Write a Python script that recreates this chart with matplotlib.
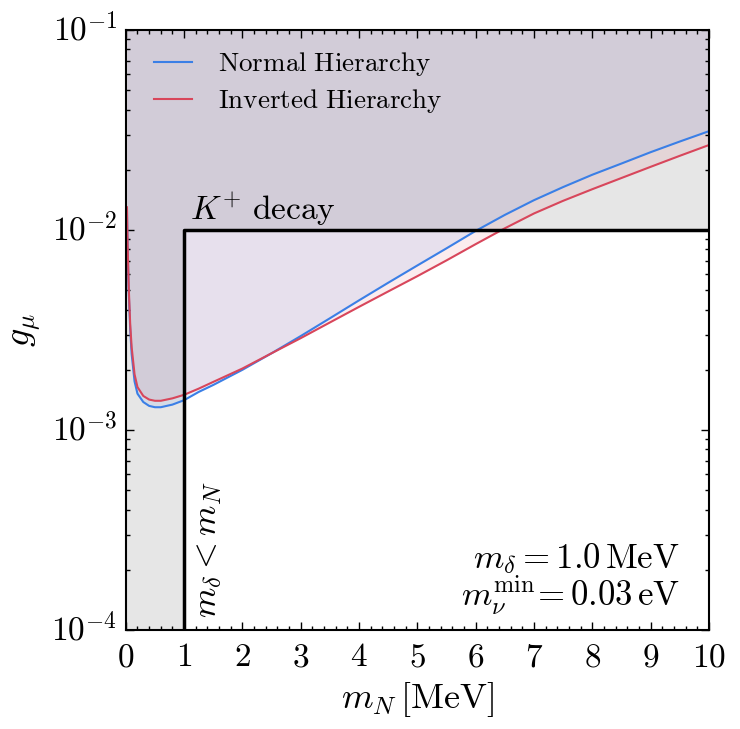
import numpy as np
import matplotlib
matplotlib.use('Agg')
from matplotlib import pyplot as plt
from matplotlib.ticker import MultipleLocator

plt.style.use('classic')
plt.rcParams['mathtext.fontset'] = 'cm'
plt.rcParams['font.family'] = 'serif'
plt.rcParams['font.serif'] = ['DejaVu Serif']

# данные
m_N = [0.02, 0.03, 0.05, 0.075, 0.1, 0.15, 0.2, 0.3, 0.4, 0.5, 0.6, 0.7, 0.8, 1.0,
       1.25, 1.5, 2.0, 2.5, 3.0, 3.5, 4.0, 4.5, 5.0, 5.5, 6.0, 6.5, 7.0, 7.5, 8.0,
       8.5, 9.0, 9.5, 10.0]
g_NH = [1.25e-2, 8.3e-3, 4.9e-3, 3.2e-3, 2.4e-3, 1.75e-3, 1.52e-3, 1.38e-3, 1.32e-3,
        1.30e-3, 1.30e-3, 1.32e-3, 1.34e-3, 1.41e-3,
        1.55e-3, 1.68e-3, 2.0e-3, 2.42e-3, 2.95e-3, 3.62e-3, 4.45e-3, 5.45e-3, 6.65e-3,
        8.1e-3, 9.9e-3, 1.19e-2, 1.41e-2, 1.64e-2, 1.89e-2,
        2.15e-2, 2.45e-2, 2.77e-2, 3.12e-2]
g_IH = [1.3e-2, 8.8e-3, 5.2e-3, 3.4e-3, 2.6e-3, 1.9e-3, 1.64e-3, 1.48e-3, 1.42e-3,
        1.40e-3, 1.40e-3, 1.42e-3, 1.44e-3, 1.50e-3,
        1.61e-3, 1.74e-3, 2.03e-3, 2.42e-3, 2.88e-3, 3.45e-3, 4.13e-3, 4.93e-3, 5.88e-3,
        7.05e-3, 8.5e-3, 1.02e-2, 1.21e-2, 1.40e-2, 1.60e-2,
        1.82e-2, 2.07e-2, 2.35e-2, 2.66e-2]

# граница K+ decay
box_x = [1.0, 1.0, 10.0]
box_y = [1e-4, 1e-2, 1e-2]

col_nh = '#3b7fe6'
col_ih = '#d8465b'

fig = plt.figure(figsize=(7.4, 7.29), dpi=100)
fig.patch.set_facecolor('white')
ax = fig.add_axes([0.170, 0.1358, 0.788, 0.823])
ax.set_facecolor('0.9')
ax.set_yscale('log')
ax.set_xlim(0, 10)
ax.set_ylim(1e-4, 1e-1)

# белая область внутри коробки
ax.fill_between([box_x[0], box_x[2]], box_y[0], box_y[1], color='white', lw=0, zorder=1)
# заливки над кривыми
ax.fill_between(m_N, g_IH, 1e-1, color=col_ih, alpha=0.1, lw=0, zorder=2)
ax.fill_between(m_N, g_NH, 1e-1, color=col_nh, alpha=0.1, lw=0, zorder=2)

ax.plot(m_N, g_NH, color=col_nh, lw=1.5, label=r'$\mathrm{Normal\ Hierarchy}$', zorder=4)
ax.plot(m_N, g_IH, color=col_ih, lw=1.5, label=r'$\mathrm{Inverted\ Hierarchy}$', zorder=4)
ax.plot(box_x, box_y, color='k', lw=2.5, zorder=5)

ax.text(1.1, 1.12e-2, r'$K^{+}\ \mathrm{decay}$', fontsize=24, zorder=6)
ax.text(1.1, 1.15e-4, r'$m_\delta < m_N$', fontsize=25, rotation=90,
        ha='left', va='bottom', zorder=6)
ax.text(9.5, 2.28e-4, r'$m_\delta = 1.0\,\mathrm{MeV}$', fontsize=25, ha='right',
        va='center', zorder=6)
ax.text(9.5, 1.49e-4, r'$m_\nu^{\mathrm{min}}\!= 0.03\,\mathrm{eV}$', fontsize=25, ha='right',
        va='center', zorder=6)

leg = ax.legend(loc='upper left', frameon=False, fontsize=19.5, handlelength=2.0,
                handletextpad=0.65, borderaxespad=0.25, borderpad=0.5, labelspacing=0.33)

ax.xaxis.set_minor_locator(MultipleLocator(0.2))
ax.set_xticks(range(0, 11))
ax.set_xticklabels([r'$%d$' % i for i in range(0, 11)])
ax.set_yticks([1e-4, 1e-3, 1e-2, 1e-1])
ax.set_yticklabels([r'$10^{-4}$', r'$10^{-3}$', r'$10^{-2}$', r'$10^{-1}$'])
ax.tick_params(labelsize=24, direction='in', which='both', top=True, right=True)
ax.tick_params(which='major', length=6, width=1)
ax.tick_params(which='minor', length=3, width=1)
ax.tick_params(axis='x', pad=8)
ax.tick_params(axis='y', pad=6)

ax.set_xlabel(r'$m_N\,[\mathrm{MeV}]$', fontsize=26)
ax.set_ylabel(r'$g_\mu$', fontsize=26, labelpad=6)
for s in ax.spines.values():
    s.set_linewidth(1.5)
    s.set_zorder(7)

fig.savefig('out.png', dpi=100, facecolor='white')
